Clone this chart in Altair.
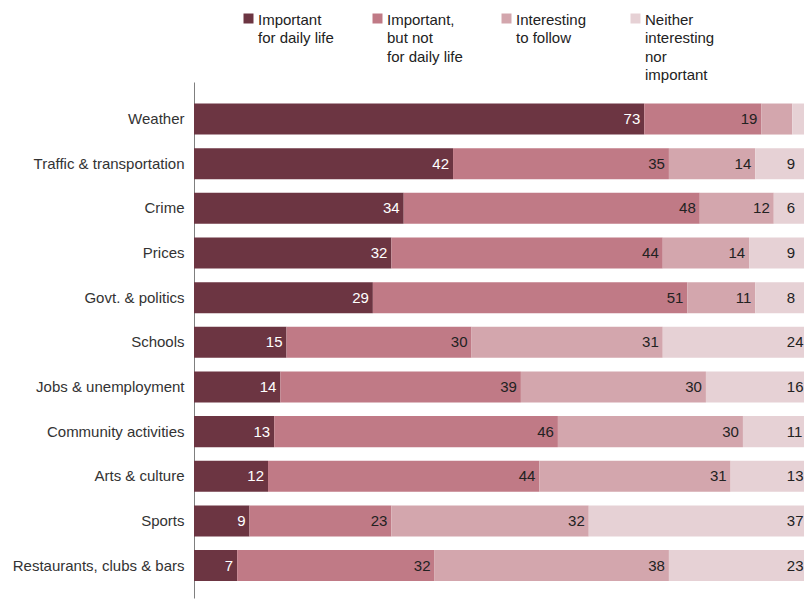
import altair as alt
import pandas as pd

categories = [
    "Weather", "Traffic & transportation", "Crime", "Prices", "Govt. & politics",
    "Schools", "Jobs & unemployment", "Community activities", "Arts & culture",
    "Sports", "Restaurants, clubs & bars",
]
series = [
    "Important for daily life",
    "Important, but not for daily life",
    "Interesting to follow",
    "Neither interesting nor important",
]
important_daily = [73, 42, 34, 32, 29, 15, 14, 13, 12, 9, 7]
important_not_daily = [19, 35, 48, 44, 51, 30, 39, 46, 44, 23, 32]
interesting = [5, 14, 12, 14, 11, 31, 30, 30, 31, 32, 38]
neither = [3, 9, 6, 9, 8, 24, 16, 11, 13, 37, 23]
colors = ["#6c3542", "#c07a86", "#d3a6ad", "#e6d1d5"]

rows = []
for s_i, (s, vals) in enumerate(zip(series, [important_daily, important_not_daily, interesting, neither])):
    for c, v in zip(categories, vals):
        rows.append({"cat": c, "series": s, "order": s_i, "value": v})
df = pd.DataFrame(rows)

FONT = "Liberation Sans"

base = alt.Chart(df).transform_stack(
    stack="value", groupby=["cat"], as_=["x0", "x1"], sort=[alt.SortField("order")]
)

yenc = alt.Y(
    "cat:N", sort=categories, title=None,
    scale=alt.Scale(paddingInner=0.305, paddingOuter=0.43, align=0.56),
    axis=alt.Axis(domain=True, domainColor="#7f7f7f", domainWidth=1, ticks=False,
                  grid=False, labelPadding=10, labelFontSize=15, labelFont=FONT,
                  labelColor="#333", labelLimit=0),
)
xscale = alt.Scale(domain=[0, 98.9], nice=False, zero=True)

label_expr = (
    "datum.label == 'Important for daily life' ? ['Important','for daily life','',''] : "
    "datum.label == 'Important, but not for daily life' ? ['Important,','but not','for daily life',''] : "
    "datum.label == 'Interesting to follow' ? ['Interesting','to follow','',''] : "
    "['Neither','interesting','nor','important']"
)

bars = base.mark_bar(clip=True).encode(
    x=alt.X("x0:Q", scale=xscale, axis=None),
    x2="x1:Q",
    y=yenc,
    color=alt.Color(
        "series:N", sort=series,
        scale=alt.Scale(domain=series, range=colors),
        legend=alt.Legend(
            title=None, orient="none", legendX=47, legendY=-65,
            direction="horizontal", columns=4, columnPadding=36,
            symbolType="M-1,-2.2H1V-0.2H-1Z", symbolSize=100, symbolStrokeWidth=0,
            symbolOpacity=1, labelFontSize=15, labelFont=FONT, labelColor="#222",
            labelBaseline="alphabetic", labelOffset=2, labelExpr=label_expr,
            labelLimit=0, gridAlign="all", padding=0,
        ),
    ),
    order=alt.Order("order:Q"),
)

text_main = base.transform_filter(
    "datum.order < 3 && datum.value >= 6"
).mark_text(align="right", baseline="middle", dx=-4, fontSize=15, font=FONT).encode(
    x=alt.X("x1:Q", scale=xscale, axis=None),
    y=yenc,
    text="value:Q",
    color=alt.condition(alt.datum.order == 0, alt.value("white"), alt.value("#222")),
)

text_last = base.transform_filter(
    "datum.order == 3 && datum.value >= 6"
).transform_calculate(lx="100").mark_text(
    align="left", baseline="middle", dx=-24, fontSize=15, font=FONT, color="#222"
).encode(
    x=alt.X("lx:Q", scale=xscale, axis=None),
    y=yenc,
    text="value:Q",
)

chart = alt.layer(bars, text_main, text_last).properties(
    width=610, height=516,
    padding={"left": 194, "top": 82, "right": 0, "bottom": 1},
    autosize=alt.AutoSizeParams(type="none"),
).configure(
    style={"guide-label": {"lineHeight": 18.5}}
).configure_view(stroke=None)

chart.save("out.html", embed_options={"renderer": "svg", "actions": False})
